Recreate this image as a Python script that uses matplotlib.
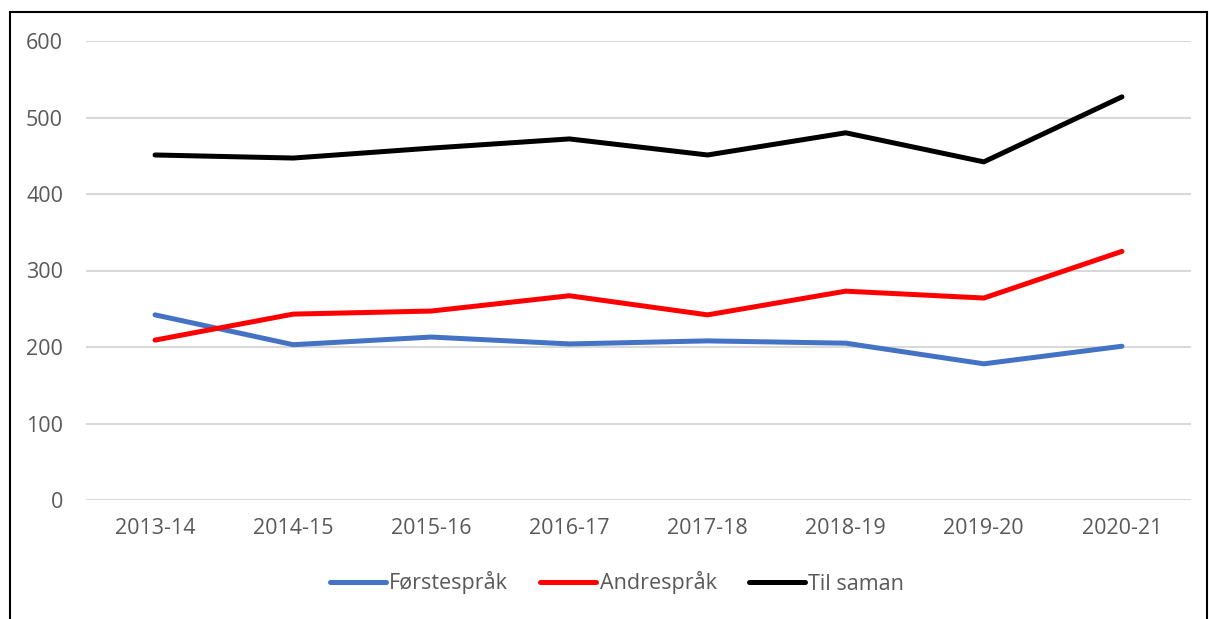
import matplotlib
matplotlib.use("Agg")
import matplotlib.pyplot as plt
from matplotlib.patches import Rectangle

plt.rcParams['font.family'] = ['Open Sans', 'DejaVu Sans']

years = ["2013-14", "2014-15", "2015-16", "2016-17", "2017-18", "2018-19", "2019-20", "2020-21"]
forstesprak = [242, 203, 213, 204, 208, 205, 178, 201]
andresprak = [209, 243, 247, 267, 242, 273, 264, 325]
til_saman = [451, 447, 460, 472, 451, 480, 442, 527]
yticks = [0, 100, 200, 300, 400, 500, 600]

W, H = 1209, 619
fig = plt.figure(figsize=(W / 100, H / 100), dpi=100)
ax = fig.add_axes([86 / W, 1 - 500 / H, (1191 - 86) / W, (500 - 41) / H])

x = list(range(len(years)))
ax.plot(x, forstesprak, color="#4472C4", lw=3.6, solid_capstyle="round", label="Førstespråk")
ax.plot(x, andresprak, color="#FF0000", lw=3.6, solid_capstyle="round", label="Andrespråk")
ax.plot(x, til_saman, color="#000000", lw=3.6, solid_capstyle="round", label="Til saman")

ax.set_xlim(-0.5, len(years) - 0.5)
ax.set_ylim(0, 600)
ax.set_yticks(yticks)
ax.set_xticks(x)
ax.set_xticklabels(years)
ax.grid(axis="y", color="#D9D9D9", lw=1.5)
ax.set_axisbelow(True)
for s in ax.spines.values():
    s.set_visible(False)
ax.tick_params(axis="both", length=0, labelsize=15.5, colors="#595959")
ax.tick_params(axis="y", pad=16.5)
ax.tick_params(axis="x", pad=13)

leg = ax.legend(loc="center", bbox_to_anchor=(617 / W * (W / (1191 - 86)) - 86 / (1191 - 86), (500 - 583) / (500 - 41)),
                ncol=3, frameon=False, fontsize=15.5, handlelength=2.6, handletextpad=0.15,
                columnspacing=1.5, labelcolor="#595959")

rect = Rectangle((10 / W, -0.1), (1207 - 10) / W, 1 - 12 / H + 0.1, transform=fig.transFigure,
                 fill=False, edgecolor="black", lw=1.5, clip_on=False)
fig.patches.append(rect)

fig.savefig("out.png", dpi=100)
